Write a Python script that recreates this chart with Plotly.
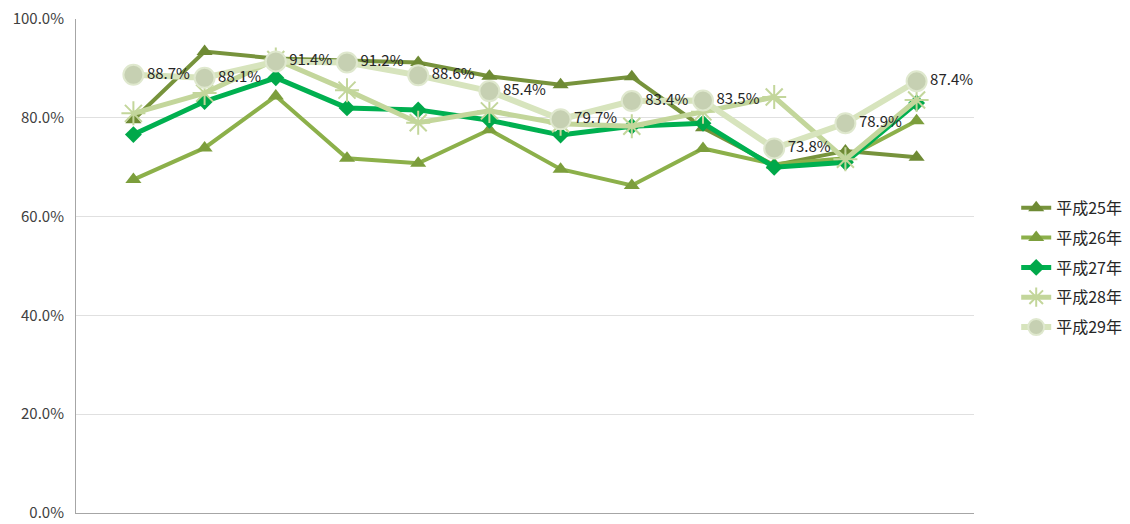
import plotly.graph_objects as go

categories = ["1", "2", "3", "4", "5", "6", "7", "8", "9", "10", "11", "12"]
series_names = ["平成25年", "平成26年", "平成27年", "平成28年", "平成29年"]
h25 = [79.6, 93.4, 92.0, 91.6, 91.2, 88.4, 86.7, 88.3, 78.0, 70.4, 73.3, 72.0]
h26 = [67.5, 73.9, 84.4, 71.8, 70.8, 77.6, 69.6, 66.3, 73.8, 70.6, 71.8, 79.4]
h27 = [76.6, 83.3, 88.1, 82.0, 81.6, 79.5, 76.5, 78.3, 78.9, 70.0, 71.0, 83.0]
h28 = [80.9, 85.0, 91.8, 85.6, 79.0, 81.4, 78.8, 78.3, 81.2, 84.2, 71.6, 83.6]
h29 = [88.7, 88.1, 91.4, 91.2, 88.6, 85.4, 79.7, 83.4, 83.5, 73.8, 78.9, 87.4]
y_ticks = [0, 0.2, 0.4, 0.6, 0.8, 1.0]

FONT = "Noto Sans CJK JP"

styles = [
    dict(line=dict(color="#77933C", width=4), marker=dict(symbol="triangle-up", size=14, color="#6E8A34")),
    dict(line=dict(color="#8CB04A", width=4), marker=dict(symbol="triangle-up", size=14, color="#7C9E3C")),
    dict(line=dict(color="#00B050", width=5), marker=dict(symbol="diamond", size=13, color="#00A84A")),
    dict(line=dict(color="#C3D69B", width=5), marker=dict(symbol="asterisk-open", size=20,
                                                           line=dict(color="#C3D69B", width=2))),
    dict(line=dict(color="#D7E4BD", width=6), marker=dict(symbol="circle", size=20, color="#C6D0B2",
                                                           line=dict(color="#DFE8CE", width=2))),
]

fig = go.Figure()
for i, (name, vals) in enumerate(zip(series_names, [h25, h26, h27, h28, h29])):
    yv = [v / 100 for v in vals]
    if i == 4:
        kw = dict(mode="lines+markers+text",
                  text=[f"{v:.1f}%" for v in vals],
                  textposition="middle right",
                  textfont=dict(family=FONT, size=15, color="#262626"))
    else:
        kw = dict(mode="lines+markers")
    fig.add_trace(go.Scatter(x=categories, y=yv, name=name, legendgroup=name,
                             line=styles[i]["line"], marker=styles[i]["marker"],
                             cliponaxis=False, **kw))

fig.update_layout(
    width=1130, height=524,
    margin=dict(l=68, r=164, t=11, b=19, autoexpand=False),
    paper_bgcolor="white", plot_bgcolor="white",
    font=dict(family=FONT, size=15, color="#404040"),
    showlegend=True,
    legend=dict(x=1.047, y=0.652, xanchor="left", yanchor="top",
                font=dict(family=FONT, size=16, color="#262626"),
                tracegroupgap=6, bgcolor="rgba(0,0,0,0)"),
)
fig.update_xaxes(showticklabels=False, showgrid=False, ticks="", automargin=False,
                 showline=True, linecolor="#A6A6A6", linewidth=1, zeroline=False)
fig.update_yaxes(range=[0, 1.0], tickvals=y_ticks, tickformat=".1%", automargin=False,
                 ticklabeloverflow="allow",
                 showgrid=True, gridcolor="#E0E0E0", gridwidth=1,
                 showline=True, linecolor="#A6A6A6", linewidth=1,
                 ticks="", zeroline=False, ticklabelstandoff=8,
                 tickfont=dict(family=FONT, size=15, color="#404040"))

fig.write_html("out.html")
